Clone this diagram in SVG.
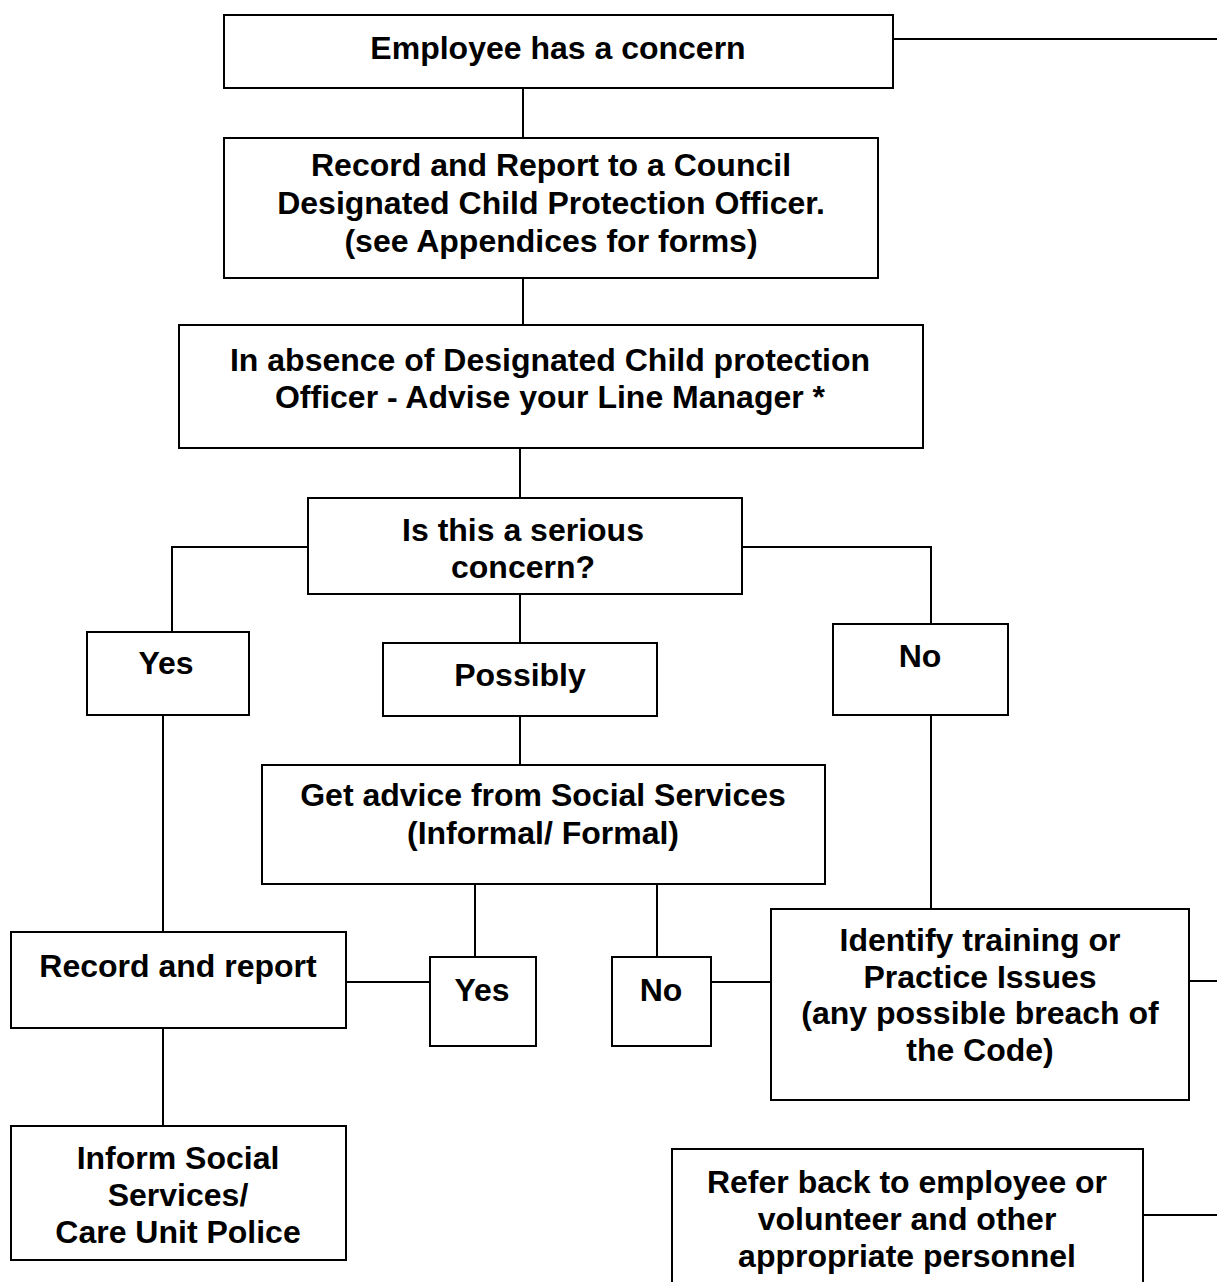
<svg xmlns="http://www.w3.org/2000/svg" width="1217" height="1282" viewBox="0 0 1217 1282">
<style>
rect{fill:#fff;stroke:#000;stroke-width:2}
#connectors line{stroke:#000;stroke-width:2}
text{font-family:"Liberation Sans",Arial,sans-serif;font-weight:bold;font-size:32px;text-anchor:middle;fill:#000}
</style>
<rect x="0" y="0" width="1217" height="1282" style="stroke:none"/>
<g id="connectors">
<line x1="893" y1="39" x2="1217" y2="39"/>
<line x1="523" y1="88" x2="523" y2="138"/>
<line x1="523" y1="278" x2="523" y2="325"/>
<line x1="520" y1="448" x2="520" y2="498"/>
<line x1="171" y1="547" x2="308" y2="547"/>
<line x1="172" y1="546" x2="172" y2="632"/>
<line x1="742" y1="547" x2="931" y2="547"/>
<line x1="931" y1="546" x2="931" y2="624"/>
<line x1="520" y1="594" x2="520" y2="643"/>
<line x1="520" y1="716" x2="520" y2="765"/>
<line x1="163" y1="715" x2="163" y2="932"/>
<line x1="931" y1="715" x2="931" y2="909"/>
<line x1="475" y1="884" x2="475" y2="957"/>
<line x1="657" y1="884" x2="657" y2="957"/>
<line x1="346" y1="982" x2="430" y2="982"/>
<line x1="711" y1="982" x2="771" y2="982"/>
<line x1="1189" y1="981" x2="1217" y2="981"/>
<line x1="163" y1="1028" x2="163" y2="1126"/>
<line x1="1143" y1="1215" x2="1217" y2="1215"/>
</g>
<g id="n1"><rect x="224" y="15" width="669" height="73"/><text x="558" y="59">Employee has a concern</text></g>
<g id="n2"><rect x="224" y="138" width="654" height="140"/><text x="551" y="176">Record and Report to a Council</text><text x="551" y="214">Designated Child Protection Officer.</text><text x="551" y="252"> (see Appendices for forms)</text></g>
<g id="n3"><rect x="179" y="325" width="744" height="123"/><text x="550" y="371">In absence of Designated Child protection</text><text x="550" y="408">Officer - Advise your Line Manager *</text></g>
<g id="n4"><rect x="308" y="498" width="434" height="96"/><text x="523" y="541">Is this a serious</text><text x="523" y="578">concern?</text></g>
<g id="n5"><rect x="87" y="632" width="162" height="83"/><text x="166" y="674">Yes</text></g>
<g id="n6"><rect x="383" y="643" width="274" height="73"/><text x="520" y="686">Possibly</text></g>
<g id="n7"><rect x="833" y="624" width="175" height="91"/><text x="920" y="667">No</text></g>
<g id="n8"><rect x="262" y="765" width="563" height="119"/><text x="543" y="806">Get advice from Social Services</text><text x="543" y="844">(Informal/ Formal)</text></g>
<g id="n9"><rect x="11" y="932" width="335" height="96"/><text x="178" y="977">Record and report</text></g>
<g id="n10"><rect x="430" y="957" width="106" height="89"/><text x="482" y="1001">Yes</text></g>
<g id="n11"><rect x="612" y="957" width="99" height="89"/><text x="661" y="1001">No</text></g>
<g id="n12"><rect x="771" y="909" width="418" height="191"/><text x="980" y="951">Identify training or</text><text x="980" y="988">Practice Issues</text><text x="980" y="1024">(any possible breach of</text><text x="980" y="1061">the Code)</text></g>
<g id="n13"><rect x="11" y="1126" width="335" height="134"/><text x="178" y="1169">Inform Social</text><text x="178" y="1206">Services/</text><text x="178" y="1243">Care Unit Police</text></g>
<g id="n14"><rect x="672" y="1149" width="471" height="160"/><text x="907" y="1193">Refer back to employee or</text><text x="907" y="1230">volunteer and other</text><text x="907" y="1267">appropriate personnel</text></g>
</svg>
